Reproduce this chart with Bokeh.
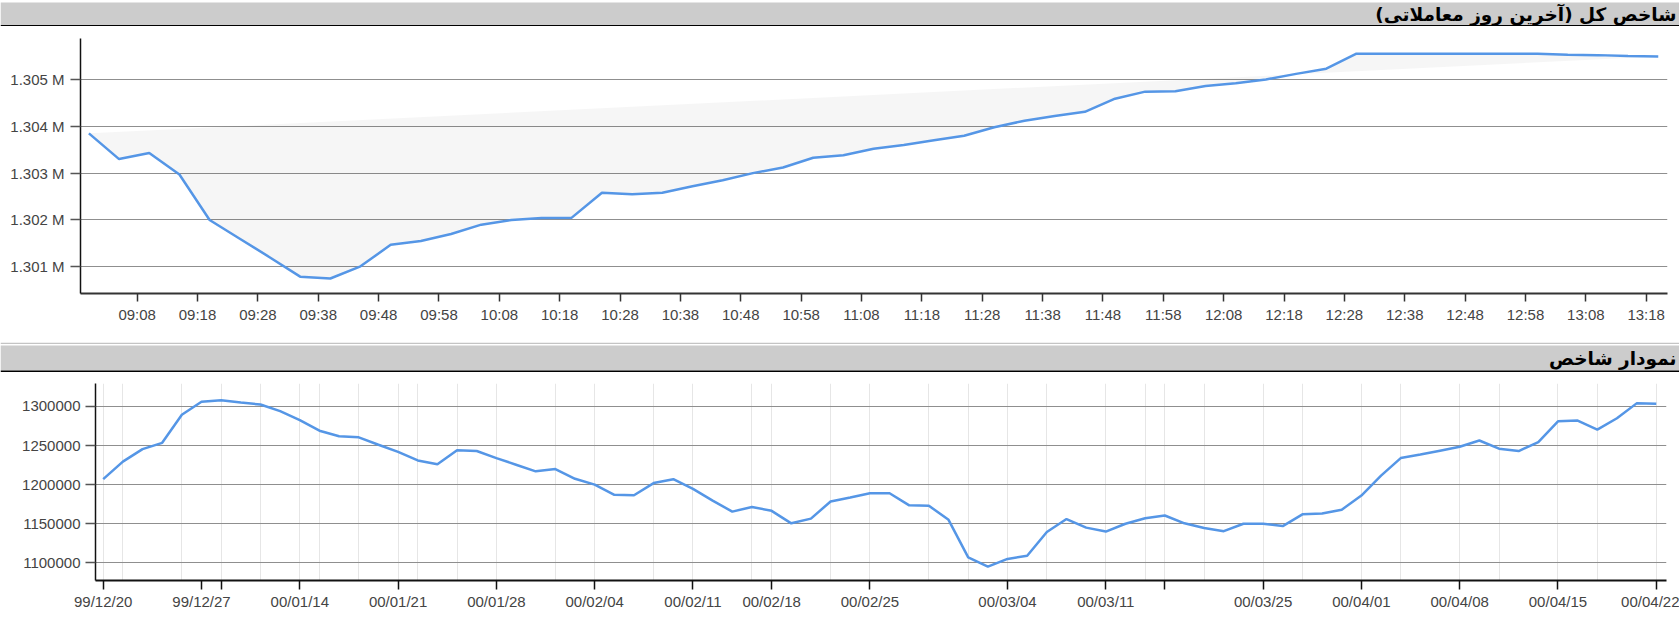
from bokeh.plotting import figure
from bokeh.models import Range1d, FixedTicker, BoxAnnotation
from bokeh.layouts import column
from bokeh.core.properties import value
from bokeh.embed import file_html
from bokeh.resources import INLINE

# ---------------- data ----------------
TITLE_TOP = "شاخص کل (آخرین روز معاملاتی)\u200f"
TITLE_BOTTOM = "نمودار شاخص"

intraday_times = ["09:00", "09:05", "09:10", "09:15", "09:20", "09:25", "09:30", "09:35",
                  "09:40", "09:45", "09:50", "09:55", "10:00", "10:05", "10:10", "10:15",
                  "10:20", "10:25", "10:30", "10:35", "10:40", "10:45", "10:50", "10:55",
                  "11:00", "11:05", "11:10", "11:15", "11:20", "11:25", "11:30", "11:35",
                  "11:40", "11:45", "11:50", "11:55", "12:00", "12:05", "12:10", "12:15",
                  "12:20", "12:25", "12:30", "12:35", "12:40", "12:45", "12:50", "12:55",
                  "13:00", "13:05", "13:10", "13:15", "13:20"]
intraday_values = [1303850, 1303300, 1303430, 1302970, 1302000, 1301600, 1301200, 1300790,
                   1300750, 1301010, 1301470, 1301550, 1301700, 1301900, 1302000, 1302040,
                   1302050, 1302580, 1302550, 1302580, 1302720, 1302850, 1303000, 1303120,
                   1303330, 1303380, 1303520, 1303600, 1303700, 1303800, 1303980, 1304120,
                   1304220, 1304310, 1304590, 1304740, 1304750, 1304860, 1304920, 1305000,
                   1305120, 1305230, 1305550, 1305550, 1305550, 1305550, 1305550, 1305550,
                   1305550, 1305530, 1305520, 1305500, 1305490]
intraday_tick_labels = ["09:08", "09:18", "09:28", "09:38", "09:48", "09:58", "10:08", "10:18",
                        "10:28", "10:38", "10:48", "10:58", "11:08", "11:18", "11:28", "11:38",
                        "11:48", "11:58", "12:08", "12:18", "12:28", "12:38", "12:48", "12:58",
                        "13:08", "13:18"]
intraday_y_ticks = [1301000, 1302000, 1303000, 1304000, 1305000]
intraday_y_labels = ["1.301 M", "1.302 M", "1.303 M", "1.304 M", "1.305 M"]

daily_values = [1207000, 1229500, 1245500, 1253500, 1289500, 1306000, 1308000, 1305000,
                1302500, 1294000, 1282500, 1269000, 1262000, 1260500, 1251000, 1242000,
                1231000, 1226000, 1244000, 1243000, 1234000, 1225500, 1217000, 1220000,
                1207500, 1200000, 1187000, 1186500, 1202000, 1207000, 1194500, 1179500,
                1165500, 1171500, 1166500, 1150500, 1156500, 1178500, 1183500, 1189000,
                1189000, 1173500, 1173000, 1155000, 1107000, 1095000, 1105000, 1109000,
                1139500, 1156000, 1145000, 1140000, 1150000, 1157000, 1160500, 1150500,
                1144500, 1140500, 1150000, 1150000, 1147000, 1162000, 1163000, 1168000,
                1186000, 1211500, 1234000, 1238500, 1243500, 1248500, 1256500, 1246000,
                1243000, 1254500, 1281000, 1282000, 1270500, 1285000, 1304000, 1303500]
daily_tick_days = [0, 5, 6, 10, 15, 20, 25, 30, 34, 39, 46, 51, 54, 59, 64, 69, 74, 79]
daily_tick_labels = ["99/12/20", "99/12/27", "", "00/01/14", "00/01/21", "00/01/28",
                     "00/02/04", "00/02/11", "00/02/18", "00/02/25", "00/03/04", "00/03/11",
                     "", "00/03/25", "00/04/01", "00/04/08", "00/04/15", "00/04/22"]
daily_grid_days = [0, 1, 4, 6, 8, 10, 11, 13, 15, 16, 18, 20, 23, 25, 28, 30, 33, 34, 37,
                   39, 42, 44, 46, 48, 51, 53, 54, 56, 59, 61, 64, 66, 69, 71, 74, 76, 79]
daily_y_ticks = [1100000, 1150000, 1200000, 1250000, 1300000]

# ---------------- style ----------------
W = 1679
LINE = "#5596e6"
TICK_FONT = "Liberation Sans"
HEAD_FONT = "DejaVu Sans"


def to_minutes(s):
    h, m = s.split(":")
    return (int(h) - 9) * 60 + int(m)


def no_align(p):
    if "frame_align" in p.properties():
        p.frame_align = False
    return p


def header(title, h, band_bottom, band_top, mid_y, border_top=None):
    p = figure(width=W, height=h, x_range=Range1d(0, W), y_range=Range1d(0, h),
               x_axis_type=None, y_axis_type=None, output_backend="svg",
               toolbar_location=None, tools="", min_border=0,
               background_fill_color="white", border_fill_color="white",
               outline_line_color=None)
    p.grid.visible = False
    p.add_layout(BoxAnnotation(bottom=band_bottom, top=band_top, fill_color="#cccccc",
                               fill_alpha=1, line_color=None, level="underlay"))
    p.add_layout(BoxAnnotation(bottom=0, top=band_bottom, fill_color="#000000",
                               fill_alpha=1, line_color=None, level="underlay"))
    if border_top is not None:
        p.add_layout(BoxAnnotation(bottom=border_top, top=h, fill_color="#c4c4c4",
                                   fill_alpha=1, line_color=None, level="underlay"))
    p.text(x=[W - 3], y=[mid_y], text=[title], text_align="right",
           text_baseline="middle", text_font=value(HEAD_FONT),
           text_font_style="bold", text_font_size="18.5px", text_color="#000000")
    return no_align(p)


def style_axes(p):
    p.axis.minor_tick_line_color = None
    p.axis.major_tick_in = 0
    p.axis.major_label_text_font = TICK_FONT
    p.axis.major_label_text_font_size = "15px"
    p.axis.major_label_text_color = "#444444"


# ---------------- top panel ----------------
hdr1 = header(TITLE_TOP, 26, 1.5, 24, 12.5)

x_top = [to_minutes(t) for t in intraday_times]
p1 = figure(width=W, height=316, x_range=Range1d(-1.39, 261.53),
            y_range=Range1d(1300430, 1305875), output_backend="svg",
            toolbar_location=None, tools="",
            min_border_left=80, min_border_right=12, min_border_top=12,
            min_border_bottom=49, background_fill_color="white",
            border_fill_color="white", outline_line_color=None)
no_align(p1)
p1.patch(x_top, intraday_values, fill_color="#000000", fill_alpha=0.035, line_color=None)
p1.line(x_top, intraday_values, line_color=LINE, line_width=2.5)

top_ticks = [to_minutes(t) for t in intraday_tick_labels]
p1.xaxis.ticker = FixedTicker(ticks=top_ticks)
p1.xaxis.major_label_overrides = {t: lab for t, lab in zip(top_ticks, intraday_tick_labels)}
p1.yaxis.ticker = FixedTicker(ticks=intraday_y_ticks)
p1.yaxis.major_label_overrides = {t: lab for t, lab in zip(intraday_y_ticks, intraday_y_labels)}
p1.xgrid.visible = False
p1.ygrid.ticker = FixedTicker(ticks=intraday_y_ticks)
p1.ygrid.grid_line_color = "#8f8f8f"
p1.ygrid.grid_line_width = 1.2
style_axes(p1)
p1.xaxis.axis_line_color = "#333333"
p1.xaxis.axis_line_width = 2
p1.xaxis.major_tick_line_color = "#333333"
p1.xaxis.major_tick_line_width = 1.5
p1.xaxis.major_tick_out = 8
p1.xaxis.major_label_standoff = 4
p1.yaxis.axis_line_color = "#111111"
p1.yaxis.axis_line_width = 1.5
p1.yaxis.major_tick_line_color = "#555555"
p1.yaxis.major_tick_line_width = 1.5
p1.yaxis.major_tick_out = 10
p1.yaxis.major_label_standoff = 6

# ---------------- bottom panel ----------------
hdr2 = header(TITLE_BOTTOM, 30, 2, 27, 14.5, border_top=28.5)

x_bot = list(range(len(daily_values)))
p2 = figure(width=W, height=262, x_range=Range1d(-0.392, 79.52),
            y_range=Range1d(1077350, 1329430), output_backend="svg",
            toolbar_location=None, tools="",
            min_border_left=95, min_border_right=13, min_border_top=11,
            min_border_bottom=54, background_fill_color="white",
            border_fill_color="white", outline_line_color=None)
no_align(p2)
p2.line(x_bot, daily_values, line_color=LINE, line_width=2.5)

p2.xaxis.ticker = FixedTicker(ticks=daily_tick_days)
p2.xaxis.major_label_overrides = {t: lab for t, lab in zip(daily_tick_days, daily_tick_labels)}
p2.yaxis.ticker = FixedTicker(ticks=daily_y_ticks)
p2.yaxis.major_label_overrides = {t: str(t) for t in daily_y_ticks}
p2.xgrid.ticker = FixedTicker(ticks=daily_grid_days)
p2.xgrid.grid_line_color = "#e6e6e6"
p2.xgrid.grid_line_width = 1
p2.ygrid.ticker = FixedTicker(ticks=daily_y_ticks)
p2.ygrid.grid_line_color = "#8f8f8f"
p2.ygrid.grid_line_width = 1.2
style_axes(p2)
p2.xaxis.axis_line_color = "#111111"
p2.xaxis.axis_line_width = 2
p2.xaxis.major_tick_line_color = "#111111"
p2.xaxis.major_tick_line_width = 1.5
p2.xaxis.major_tick_out = 9
p2.xaxis.major_label_standoff = 3
p2.yaxis.axis_line_color = "#111111"
p2.yaxis.axis_line_width = 1.5
p2.yaxis.major_tick_line_color = "#555555"
p2.yaxis.major_tick_line_width = 1.5
p2.yaxis.major_tick_out = 10
p2.yaxis.major_label_standoff = 5

layout = column(hdr1, p1, hdr2, p2)

open("out.html", "w").write(file_html(layout, INLINE))
